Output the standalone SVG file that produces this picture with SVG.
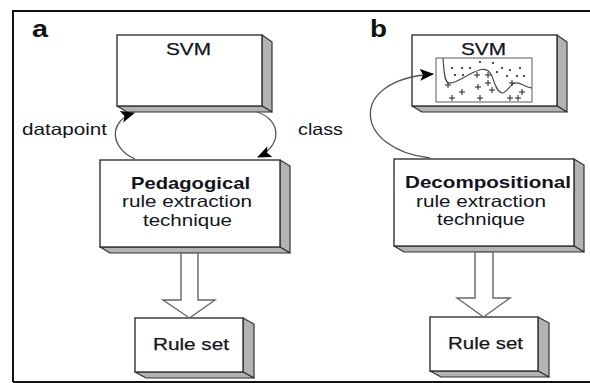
<svg xmlns="http://www.w3.org/2000/svg" width="590" height="383" viewBox="0 0 590 383">
<style>
.front{fill:#fff;stroke:#333;stroke-width:1.4}
.side{fill:#b3b3b3;stroke:#333;stroke-width:1.2;stroke-linejoin:round}
.t{font-family:"Liberation Sans",Arial,sans-serif;fill:#141420;text-anchor:middle}
.lbl{font-size:16.5px}
.med{font-size:16.5px;stroke:#141420;stroke-width:0.25}
.bold{font-size:16.5px;font-weight:bold}
.panel{font-family:"Liberation Sans",Arial,sans-serif;font-weight:bold;font-size:23px;fill:#111}
.arc{fill:none;stroke:#555;stroke-width:1.3}
.hollow{fill:#fff;stroke:#666;stroke-width:1.4;stroke-linejoin:miter}
.pl{stroke:#222;stroke-width:1;fill:none}
.dot{fill:#222}
</style>
<defs>
<marker id="ah" markerUnits="userSpaceOnUse" markerWidth="16" markerHeight="14" refX="13" refY="6" orient="auto">
<path d="M0,0 L14,6 L0,12 L3,6 Z" fill="#000"/>
</marker>
</defs>
<rect width="590" height="383" fill="#fff"/>
<path d="M13,382 L13,11 L592,11" fill="none" stroke="#111" stroke-width="2"/>
<path d="M13,382 L592,382" fill="none" stroke="#111" stroke-width="2"/>
<text class="panel" x="32" y="37" textLength="16" lengthAdjust="spacingAndGlyphs">a</text>
<text class="panel" x="370" y="37" textLength="17" lengthAdjust="spacingAndGlyphs">b</text>

<g id="svm-a">
<polygon class="side" points="262,35 272,42 272,112 262,106"/>
<polygon class="side" points="117,106 262,106 272,112 127,112"/>
<rect class="front" x="117" y="35" width="145" height="71"/>
<text class="t med" x="188.5" y="55" textLength="45" lengthAdjust="spacingAndGlyphs">SVM</text>
</g>
<g id="pedagogical">
<polygon class="side" points="280,160 290,166 290,253 280,247"/>
<polygon class="side" points="100,247 280,247 290,253 110,253"/>
<rect class="front" x="100" y="160" width="180" height="87"/>
<text class="t bold" x="190.5" y="189" textLength="119" lengthAdjust="spacingAndGlyphs">Pedagogical</text>
<text class="t lbl" x="187" y="207" textLength="130" lengthAdjust="spacingAndGlyphs">rule extraction</text>
<text class="t lbl" x="187.5" y="226" textLength="89" lengthAdjust="spacingAndGlyphs">technique</text>
</g>
<g id="ruleset-a">
<polygon class="side" points="243,318 254,324 254,378 243,372"/>
<polygon class="side" points="135,372 243,372 254,378 146,378"/>
<rect class="front" x="135" y="318" width="108" height="54"/>
<text class="t med" x="191" y="350" textLength="76" lengthAdjust="spacingAndGlyphs">Rule set</text>
</g>
<g id="svm-b">
<polygon class="side" points="557,35 567,42 567,112 557,106"/>
<polygon class="side" points="412,106 557,106 567,112 422,112"/>
<rect class="front" x="412" y="35" width="145" height="71"/>
<text class="t med" x="483.5" y="55" textLength="45" lengthAdjust="spacingAndGlyphs">SVM</text>
<rect x="436" y="58" width="96" height="44" fill="#fff" stroke="#777" stroke-width="1.2"/>
<path d="M443,58 C444,70 444,80 448,83 C455,84 462,78 470,74 C478,70 486,66 491,74 C494,80 496,92 502,93 C507,93 510,84 515,83 C520,82 525,87 532,88" fill="none" stroke="#444" stroke-width="1.1"/>
<g class="dot">
<circle cx="452" cy="68" r="1.1"/><circle cx="462" cy="68" r="1.1"/><circle cx="470" cy="68" r="1.1"/>
<circle cx="480" cy="62" r="1.1"/><circle cx="493" cy="63" r="1.1"/><circle cx="502" cy="68" r="1.1"/>
<circle cx="510" cy="70" r="1.1"/><circle cx="520" cy="68" r="1.1"/><circle cx="507" cy="76" r="1.1"/>
<circle cx="517" cy="76" r="1.1"/><circle cx="524" cy="76" r="1.1"/><circle cx="463" cy="75" r="1.1"/>
<circle cx="455" cy="75" r="1.1"/><circle cx="497" cy="72" r="1.1"/>
</g>
<path class="pl" d="M445,85h6M448,82v6 M459,92h6M462,89v6 M474,75h6M477,72v6 M475,87h6M478,84v6 M477,98h6M480,95v6 M485,75h6M488,72v6 M485,83h6M488,80v6 M489,90h6M492,87v6 M507,98h6M510,95v6 M515,98h6M518,95v6 M519,92h6M522,89v6 M449,98h6M452,95v6 M509,83h6M512,80v6"/>
</g>
<g id="decompositional">
<polygon class="side" points="574,159 584,165 584,252 574,246"/>
<polygon class="side" points="394,246 574,246 584,252 404,252"/>
<rect class="front" x="394" y="159" width="180" height="87"/>
<text class="t bold" x="488" y="188" textLength="166" lengthAdjust="spacingAndGlyphs">Decompositional</text>
<text class="t lbl" x="481" y="207" textLength="130" lengthAdjust="spacingAndGlyphs">rule extraction</text>
<text class="t lbl" x="481" y="225" textLength="88" lengthAdjust="spacingAndGlyphs">technique</text>
</g>
<g id="ruleset-b">
<polygon class="side" points="538,317 549,323 549,377 538,371"/>
<polygon class="side" points="430,371 538,371 549,377 441,377"/>
<rect class="front" x="430" y="317" width="108" height="54"/>
<text class="t med" x="485.5" y="349" textLength="75" lengthAdjust="spacingAndGlyphs">Rule set</text>
</g>

<g id="connectors">
<path class="arc" d="M135,159 C110,148 108,121 134,113" marker-end="url(#ah)"/>
<path class="arc" d="M257,112 C282,120 282,146 258,157" marker-end="url(#ah)"/>
<path class="arc" d="M430,158 C355,150 345,80 433,74" marker-end="url(#ah)"/>
<polygon class="hollow" points="181,253 198,253 198,300 215,300 189.5,318 163,300 181,300"/>
<polygon class="hollow" points="475,252 493,252 493,298 510,298 483.5,317 457,298 475,298"/>
<text class="t lbl" x="64.5" y="135" textLength="85" lengthAdjust="spacingAndGlyphs">datapoint</text>
<text class="t lbl" x="320.5" y="135" textLength="45" lengthAdjust="spacingAndGlyphs">class</text>
</g>
</svg>
